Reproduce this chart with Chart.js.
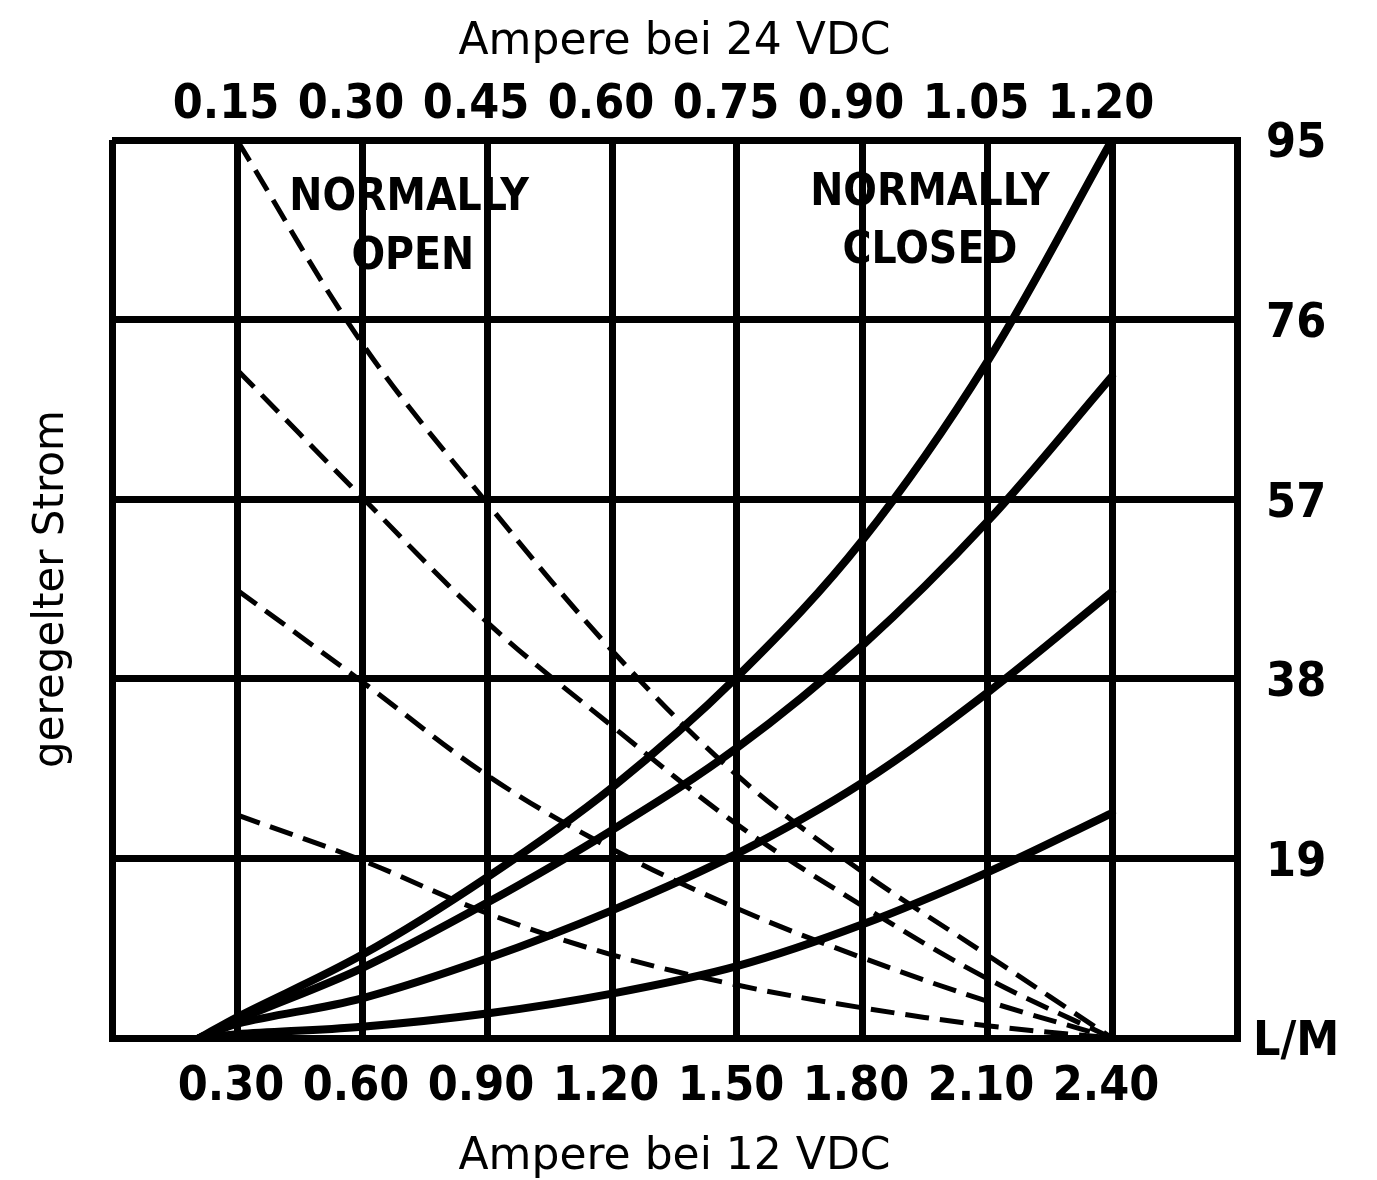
<!DOCTYPE html>
<html><head><meta charset="utf-8">
<script src="https://cdn.jsdelivr.net/npm/chart.js@4.4.1/dist/chart.umd.min.js"></script>
<style>html,body{margin:0;padding:0;background:#fff}canvas{display:block}</style>
</head><body>
<canvas id="c" width="1377" height="1180"></canvas>
<script>
// Tick values / labels
const xTicks12 = [0, 0.3, 0.6, 0.9, 1.2, 1.5, 1.8, 2.1, 2.4, 2.7];
const xLabels12 = ['', '0.30', '0.60', '0.90', '1.20', '1.50', '1.80', '2.10', '2.40', ''];
const xTicks24 = [0.15, 0.30, 0.45, 0.60, 0.75, 0.90, 1.05, 1.20];
const xLabels24 = ['0.15', '0.30', '0.45', '0.60', '0.75', '0.90', '1.05', '1.20'];
const yTicks = [0, 19, 38, 57, 76, 95];
const yLabels = ['L/M', '19', '38', '57', '76', '95'];

// Normally closed (solid) curves: x = Ampere bei 12 VDC, y = L/M
const ncX = [0.21, 0.30, 0.60, 0.90, 1.20, 1.50, 1.80, 2.10, 2.40];
const nc1 = [0, 2.2, 8.8, 17.0, 26.5, 38.2, 52.6, 71.5, 95];
const nc2 = [0, 1.9, 7.4, 14.3, 22.0, 30.7, 41.5, 54.6, 70.0];
const nc3 = [0, 1.5, 4.2, 8.4, 13.5, 19.5, 27.0, 36.5, 47.2];
const nc4 = [0, 0.4, 1.2, 2.6, 4.7, 7.6, 12.0, 17.5, 23.8];

// Normally open (dashed) curves
const noX = [0.30, 0.60, 0.90, 1.20, 1.50, 1.80, 2.10, 2.40];
const no1 = [95, 73.5, 56.6, 41.0, 27.8, 17.6, 8.8, 0];
const no2 = [70.7, 57.2, 44.0, 33.0, 22.6, 14.0, 6.3, 0];
const no3 = [47.4, 37.7, 27.8, 20.0, 13.7, 8.5, 3.9, 0];
const no4 = [23.6, 18.8, 13.2, 8.8, 5.6, 3.2, 1.3, 0];

// In-plot notes (data coordinates)
const noteText = ['NORMALLY', 'OPEN', 'NORMALLY', 'CLOSED'];
const noteX = [0.713, 0.722, 1.963, 1.963];
const noteY = [88.8, 82.6, 89.3, 83.2];

const FONT = "'DejaVu Sans', sans-serif";
const FONT_C = "'DejaVu Sans Condensed', 'DejaVu Sans', sans-serif";
Chart.defaults.color = '#000';
Chart.defaults.font.family = FONT;

function pts(xs, ys) { return xs.map((x, i) => ({x: x, y: ys[i]})); }
function solid(ys) {
  return {data: pts(ncX, ys), borderColor: '#000', borderWidth: 8, pointRadius: 0,
    tension: 0.35, fill: false, yAxisID: 'y', xAxisID: 'x', borderCapStyle: 'round'};
}
function dashed(ys) {
  return {data: pts(noX, ys), borderColor: '#000', borderWidth: 5, borderDash: [24, 11],
    pointRadius: 0, tension: 0.35, fill: false, yAxisID: 'y', xAxisID: 'x'};
}

const notesPlugin = {
  id: 'notes',
  afterDatasetsDraw(chart) {
    const {ctx, scales} = chart;
    ctx.save();
    ctx.fillStyle = '#000';
    ctx.font = "bold 44px " + FONT_C;
    ctx.textAlign = 'center';
    ctx.textBaseline = 'middle';
    noteText.forEach((t, i) => {
      ctx.fillText(t, scales.x.getPixelForValue(noteX[i]), scales.y.getPixelForValue(noteY[i]));
    });
    ctx.restore();
  }
};

const tickFont = {family: FONT_C, size: 48, weight: 'bold'};

new Chart(document.getElementById('c'), {
  type: 'line',
  data: {datasets: [solid(nc1), solid(nc2), solid(nc3), solid(nc4),
                    dashed(no1), dashed(no2), dashed(no3), dashed(no4)]},
  options: {
    responsive: false, animation: false, devicePixelRatio: 1,
    layout: {padding: 0},
    plugins: {legend: {display: false}, tooltip: {enabled: false}},
    scales: {
      x: {
        type: 'linear', position: 'bottom', min: 0, max: 2.7,
        afterBuildTicks: s => { s.ticks = xTicks12.map(v => ({value: v})); },
        afterFit: s => { s.height = 142; },
        ticks: {callback: (v, i) => xLabels12[i], font: tickFont, padding: 21,
                labelOffset: -6, maxRotation: 0, autoSkip: false},
        grid: {color: '#000', lineWidth: 7, drawTicks: false},
        border: {display: true, color: '#000', width: 7},
        title: {display: true, text: 'Ampere bei 12 VDC', font: {size: 44, lineHeight: 1},
                padding: {top: 0, bottom: 0}}
      },
      x2: {
        type: 'linear', position: 'top', min: 0, max: 1.35,
        afterBuildTicks: s => { s.ticks = xTicks24.map(v => ({value: v})); },
        afterFit: s => { s.height = 140; },
        ticks: {callback: (v, i) => xLabels24[i], font: tickFont, padding: 6,
                labelOffset: -11, maxRotation: 0, autoSkip: false},
        grid: {display: false, drawTicks: false},
        border: {display: false},
        title: {display: true, text: 'Ampere bei 24 VDC', font: {size: 44, lineHeight: 1},
                padding: {top: 21, bottom: 0}}
      },
      y: {
        type: 'linear', position: 'right', min: 0, max: 95,
        afterBuildTicks: s => { s.ticks = yTicks.map(v => ({value: v})); },
        afterFit: s => { s.width = 140; },
        ticks: {callback: (v, i) => yLabels[i], font: tickFont, padding: 16,
                labelOffset: 5, crossAlign: 'center', autoSkip: false},
        grid: {color: '#000', lineWidth: 7, drawTicks: false},
        border: {display: true, color: '#000', width: 7}
      },
      yl: {
        type: 'linear', position: 'left', display: true,
        afterFit: s => { s.width = 112; },
        ticks: {display: false},
        grid: {display: false, drawTicks: false},
        border: {display: false},
        title: {display: true, text: 'geregelter Strom', font: {size: 42, lineHeight: 1},
                padding: {top: 31, bottom: 0}}
      }
    }
  },
  plugins: [notesPlugin]
});
</script>
</body></html>
